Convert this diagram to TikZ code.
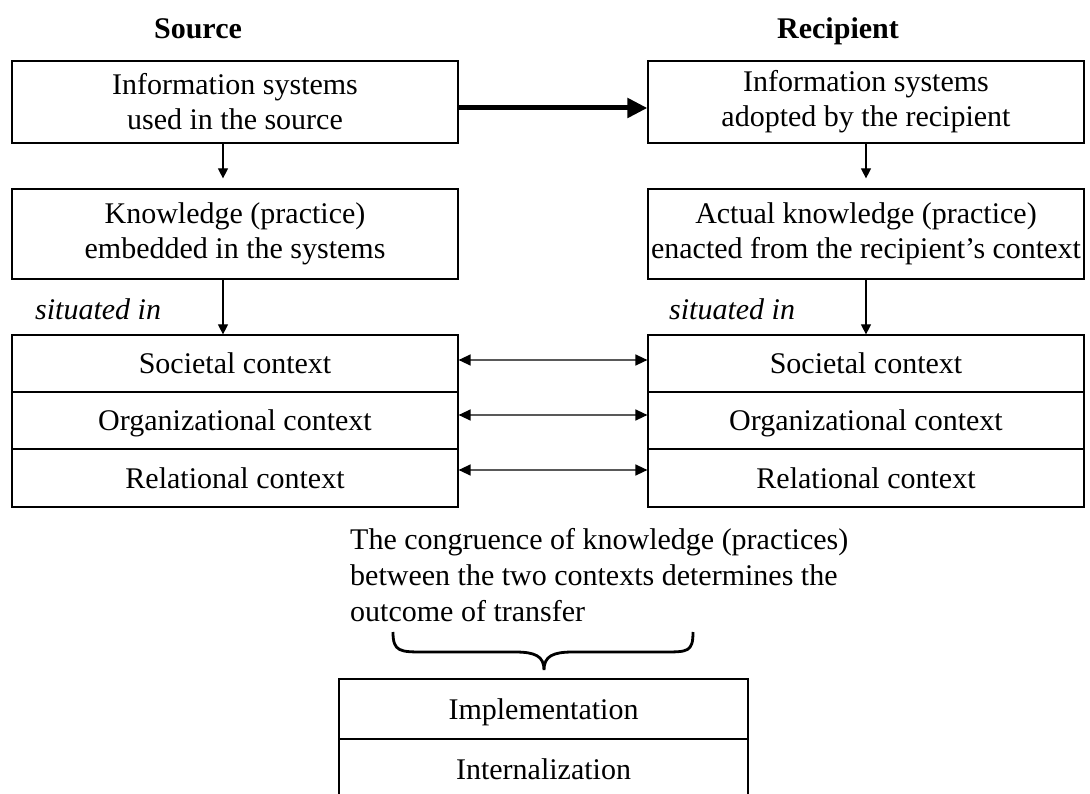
\documentclass[tikz,border=0pt]{standalone}
\usepackage{fontspec}
\setmainfont{Liberation Serif}
\usetikzlibrary{arrows.meta}
\begin{document}
\begin{tikzpicture}[x=1pt,y=-1pt,
  every node/.style={font=\fontsize{30}{35}\selectfont, inner sep=0pt},
  box/.style={draw=black, line width=1.2pt, align=center},
  cell/.style={draw=black, line width=1.2pt, minimum height=57pt, text height=24pt, text depth=4pt},
  hdr/.style={anchor=base, font=\fontsize{30}{35}\selectfont\bfseries},
  sit/.style={anchor=base west, font=\fontsize{30}{35}\selectfont\itshape},
  conn/.style={line width=1.1pt, -{Triangle[length=10pt,width=10pt]}},
  dbl/.style={line width=1.4pt, draw=black!65, {Triangle[length=12pt,width=11pt,color=black]}-{Triangle[length=12pt,width=11pt,color=black]}},
  big/.style={line width=5pt, -{Triangle[length=20pt,width=19pt]}}
]
\useasboundingbox (0,0) rectangle (1090,794);

% headers
\node[hdr] (hs) at (198,39) {Source};
\node[hdr] (hr) at (838,39) {Recipient};

% upper boxes
\node[box, minimum width=446pt, minimum height=82pt] (s1) at (235,102) {Information systems\\used in the source};
\node[box, minimum width=436pt, minimum height=82pt] (r1) at (866,102) {Information systems\\adopted by the recipient};
\node[box, minimum width=446pt, minimum height=90pt] (s2) at (235,234) {Knowledge (practice)\\embedded in the systems};
\node[box, minimum width=436pt, minimum height=90pt] (r2) at (866,234) {Actual knowledge (practice)\\enacted from the recipient’s context};

% situated in
\node[sit] (si1) at (35,320) {situated in};
\node[sit] (si2) at (669,320) {situated in};

% context stacks
\node[cell, minimum width=446pt] (sa) at (235,363.5) {Societal context};
\node[cell, minimum width=446pt] (sb) at (235,420.5) {Organizational context};
\node[cell, minimum width=446pt, minimum height=58pt] (sc) at (235,478) {Relational context};
\node[cell, minimum width=436pt] (ra) at (866,363.5) {Societal context};
\node[cell, minimum width=436pt] (rb) at (866,420.5) {Organizational context};
\node[cell, minimum width=436pt, minimum height=58pt] (rc) at (866,478) {Relational context};

% connectors
\draw[big] ([yshift=-6pt]s1.east) -- ([yshift=-6pt]r1.west);
\draw[conn, shorten >=10pt] ([xshift=-12pt]s1.south) -- ([xshift=-12pt]s2.north);
\draw[conn] ([xshift=-12pt]s2.south) -- ([xshift=-12pt]sa.north);
\draw[conn, shorten >=10pt] (r1.south) -- (r2.north);
\draw[conn] (r2.south) -- (ra.north);
\draw[dbl] ([yshift=3.5pt]sa.east) -- ([yshift=3.5pt]ra.west);
\draw[dbl] ([yshift=5.5pt]sb.east) -- ([yshift=5.5pt]rb.west);
\draw[dbl] ([yshift=8pt]sc.east) -- ([yshift=8pt]rc.west);

% congruence text
\node[anchor=north west, align=left, font=\fontsize{30}{36}\selectfont] (cg) at (350,528)
  {The congruence of knowledge (practices)\\between the two contexts determines the\\outcome of transfer};

% brace
\draw[line width=2.8pt] (393,632) .. controls (393,652) and (400,652) .. (425,652) -- (515,652)
  .. controls (535,652) and (544,656) .. (544,670)
  .. controls (544,656) and (553,652) .. (573,652) -- (663,652)
  .. controls (688,652) and (693,652) .. (693,632);

% outcome stack
\node[cell, minimum width=409pt, minimum height=60pt] (im) at (543.5,709) {Implementation};
\node[cell, minimum width=409pt, minimum height=60pt] (in) at (543.5,769) {Internalization};
\end{tikzpicture}
\end{document}
